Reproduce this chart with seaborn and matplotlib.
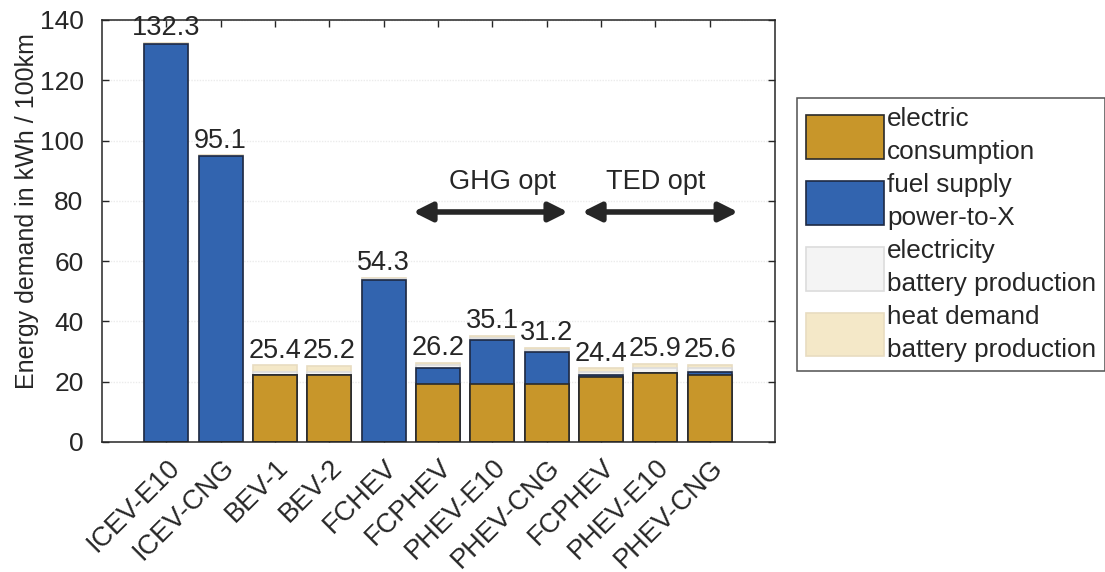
import numpy as np
import pandas as pd
import matplotlib
matplotlib.use("Agg")
import matplotlib.pyplot as plt
import matplotlib.transforms as mtransforms
import seaborn as sns
from matplotlib.patches import Patch

# ---------------- data ----------------
categories = ["ICEV-E10", "ICEV-CNG", "BEV-1", "BEV-2", "FCHEV",
              "FCPHEV", "PHEV-E10", "PHEV-CNG",
              "FCPHEV", "PHEV-E10", "PHEV-CNG"]
keys = ["ICEV-E10", "ICEV-CNG", "BEV-1", "BEV-2", "FCHEV",
        "FCPHEV (GHG)", "PHEV-E10 (GHG)", "PHEV-CNG (GHG)",
        "FCPHEV (TED)", "PHEV-E10 (TED)", "PHEV-CNG (TED)"]
electric_consumption = [0.0, 0.0, 22.3, 22.1, 0.0, 19.2, 19.2, 19.2, 21.4, 23.0, 22.3]
fuel_supply_ptx      = [132.0, 94.8, 0.0, 0.0, 53.7, 5.5, 14.5, 10.5, 0.9, 0.0, 0.9]
electricity_battery  = [0.1, 0.1, 1.0, 1.0, 0.3, 0.7, 0.7, 0.7, 1.0, 1.4, 1.2]
heat_battery         = [0.2, 0.2, 2.1, 2.1, 0.3, 0.8, 0.7, 0.8, 1.1, 1.5, 1.2]
totals_label = ["132.3", "95.1", "25.4", "25.2", "54.3", "26.2", "35.1", "31.2", "24.4", "25.9", "25.6"]
layer_names = ["electric\nconsumption", "fuel supply\npower-to-X",
               "electricity\nbattery production", "heat demand\nbattery production"]
y_ticks = [0, 20, 40, 60, 80, 100, 120, 140]
ylabel = "Energy demand in kWh / 100km"

colors = ["#C8962A", "#3264AF", "#F4F4F4", "#F4E8C8"]
edgecols = ["#2a2a2a", "#1e2a44", "#dcdcdc", "#e8dcc0"]

# ---------------- figure ----------------
sns.set_theme(style="white")
plt.rcParams['font.family'] = ['Liberation Sans', 'DejaVu Sans']

fig = plt.figure(figsize=(11.05, 5.72), dpi=100)
ax = fig.add_axes([0.092, 0.2273, 0.6094, 0.7378])

layers = [electric_consumption, fuel_supply_ptx, electricity_battery, heat_battery]
cum = np.cumsum(np.array(layers), axis=0)

# draw cumulative bars top layer first so lower layers overlap
for i in range(3, -1, -1):
    df = pd.DataFrame({"key": keys, "val": cum[i]})
    sns.barplot(data=df, x="key", y="val", order=keys, color=colors[i],
                saturation=1, width=0.81, edgecolor=edgecols[i], linewidth=1.2,
                ax=ax, zorder=2 + (3 - i) * 0.1)

ax.set_xlim(-1.19, 11.2)
ax.set_ylim(0, 140)
ax.set_yticks(y_ticks)
ax.set_xticks(range(len(keys)))
ax.set_xticklabels(categories, rotation=45, ha="right", rotation_mode="anchor",
                   fontsize=19.5, color="#262626")
offset = mtransforms.ScaledTranslation(6 / 100, 0, fig.dpi_scale_trans)
for lab in ax.get_xticklabels():
    lab.set_transform(lab.get_transform() + offset)
ax.tick_params(axis="y", labelsize=19, colors="#262626", pad=13)
ax.tick_params(axis="x", pad=9)
ax.tick_params(direction="in", length=5, width=1, top=True, right=True,
               bottom=True, left=True, color="#262626")
ax.set_xlabel("")
ax.set_ylabel(ylabel, fontsize=18, color="#262626")
ax.yaxis.set_label_coords(-0.093, 0.547)
ax.yaxis.grid(True, color="#ebebeb", linestyle=(0, (1, 1)), linewidth=1, zorder=0)
ax.set_axisbelow(True)
for s in ax.spines.values():
    s.set_color("#262626")
    s.set_linewidth(1.1)

# value labels
tops = cum[-1]
for xi, (t, lab) in enumerate(zip(tops, totals_label)):
    ax.text(xi, t + 0.6, lab, ha="center", va="bottom", fontsize=19.5, color="#262626",
            zorder=5)

# arrows
arr = dict(arrowstyle="<|-|>", color="#262626", lw=4, mutation_scale=28,
           shrinkA=0, shrinkB=0)
ax.annotate("", xy=(4.54, 76.3), xytext=(7.39, 76.3), arrowprops=arr)
ax.annotate("", xy=(7.65, 76.3), xytext=(10.52, 76.3), arrowprops=arr,
            annotation_clip=False)
ax.text(6.18, 86.3, "GHG opt", ha="center", va="center", fontsize=19.5, color="#262626")
ax.text(9.01, 86.3, "TED opt", ha="center", va="center", fontsize=19.5, color="#262626")

# legend
handles = [Patch(facecolor=colors[i], edgecolor=edgecols[i], linewidth=1.2)
           for i in range(4)]
leg = fig.legend(handles, layer_names, loc="upper left",
                 bbox_to_anchor=(797 / 1105, 1 - 98 / 572),
                 fontsize=18.8, frameon=True, fancybox=False, edgecolor="#262626",
                 handlelength=3.0, handleheight=2.2, handletextpad=0.1,
                 labelspacing=0.36, borderpad=0.35, borderaxespad=0)
leg.get_frame().set_linewidth(1.1)
for t in leg.get_texts():
    t.set_color("#262626")
    t.set_linespacing(1.45)

fig.savefig("out.png", dpi=100)
